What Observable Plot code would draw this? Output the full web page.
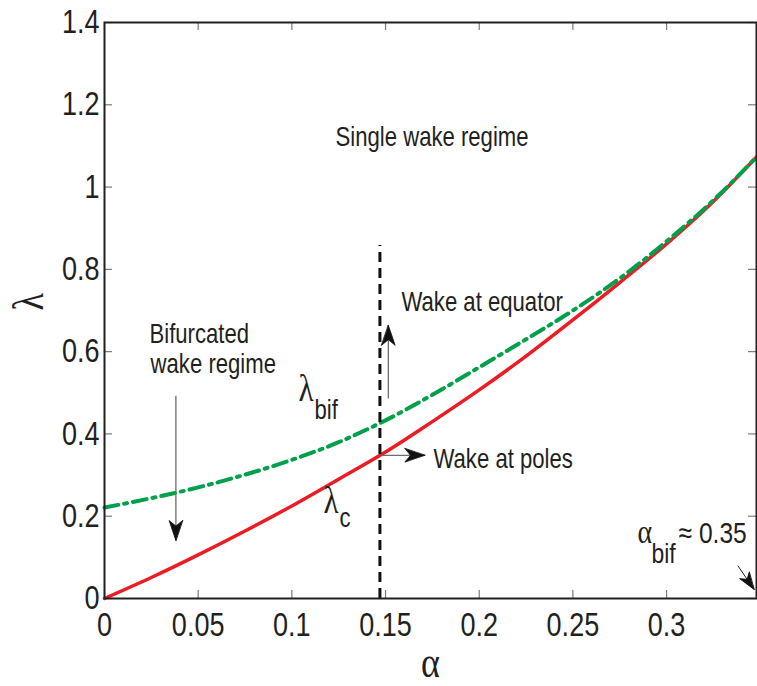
<!DOCTYPE html>
<html>
<head>
<meta charset="utf-8">
<script src="https://cdn.jsdelivr.net/npm/d3@7"></script>
<script src="https://cdn.jsdelivr.net/npm/@observablehq/plot@0.6"></script>
<style>
  html, body { margin: 0; padding: 0; background: #fff; }
  #chart svg { display: block; }
</style>
</head>
<body>
<div id="chart"></div>
<script>
// ---- data ----
const alpha = [0, 0.025, 0.05, 0.075, 0.1, 0.125, 0.15, 0.175, 0.2, 0.225, 0.25, 0.275, 0.3, 0.325, 0.348];
const lambdaC = [0, 0.051, 0.106, 0.164, 0.225, 0.290, 0.356, 0.430, 0.507, 0.589, 0.677, 0.768, 0.862, 0.965, 1.073];
const lambdaBif = [0.221, 0.244, 0.270, 0.301, 0.337, 0.380, 0.433, 0.495, 0.562, 0.630, 0.700, 0.778, 0.868, 0.968, 1.073];

const xTicks = [0, 0.05, 0.1, 0.15, 0.2, 0.25, 0.3];
const yTicks = [0, 0.2, 0.4, 0.6, 0.8, 1, 1.2, 1.4];
const xDomain = [0, 0.348];
const yDomain = [0, 1.4];

const alphaCut = 0.147;      // vertical dashed line
const cutTop = 0.858;

// arrows: start (x1,y1) -> tip (x2,y2)
const arrowX1 = [0.0381, 0.1515, 0.148, 0.338];
const arrowY1 = [0.493, 0.486, 0.348, 0.080];
const arrowX2 = [0.0381, 0.1515, 0.171, 0.3467];
const arrowY2 = [0.141, 0.664, 0.348, 0.022];

// text annotations (left edge, baseline)
const noteText = ["Single wake regime", "Bifurcated", "wake regime", "Wake at equator", "Wake at poles", "bif", "c", "bif", "\u2248 0.35"];
const noteX = [0.1233, 0.024, 0.0246, 0.1585, 0.1756, 0.1121, 0.1254, 0.2919, 0.3064];
const noteY = [1.101, 0.622, 0.547, 0.700, 0.318, 0.4375, 0.1726, 0.0875, 0.1337];
const noteSize = [27, 27, 27, 27, 27, 27, 27, 28, 30];
const greekText = ["\u03bb", "\u03bb", "\u03b1"];
const greekX = [0.1035, 0.1169, 0.2845];
const greekY = [0.481, 0.209, 0.1337];
const greekSize = [38, 38, 34];

// ---- layout ----
const W = 757, H = 686;
const mL = 104, mR = 1, mT = 22, mB = 88;
const plotH = H - mT - mB;
const plotW = W - mL - mR;
const sansFont = "'Liberation Sans', Arial, Helvetica, sans-serif";
const greekFont = "'Liberation Serif', 'DejaVu Serif', serif";
const ink = "#231f20";
const narrow = 0.82;   // reference type is horizontally condensed

const series = alpha.flatMap((a, i) => [
  {alpha: a, lambda: lambdaC[i], s: "c"},
  {alpha: a, lambda: lambdaBif[i], s: "bif"}
]);
const arrows = arrowX1.map((d, i) => ({x1: arrowX1[i], y1: arrowY1[i], x2: arrowX2[i], y2: arrowY2[i], k: i}));
const notes = noteText.map((t, i) => ({t, x: noteX[i], y: noteY[i], size: noteSize[i]}));
const greeks = greekText.map((t, i) => ({t, x: greekX[i], y: greekY[i], size: greekSize[i]}));

// pixel-space direction of arrows (mirrors the plot's scales)
const sx = d3.scaleLinear().domain(xDomain).range([mL, W - mR]);
const sy = d3.scaleLinear().domain(yDomain).range([H - mB, mT]);
const angle = d => Math.atan2(sx(d.x2) - sx(d.x1), -(sy(d.y2) - sy(d.y1))) * 180 / Math.PI;

// stealth arrowhead shape
const stealth = {
  draw(context, l) {
    const w = l * 0.34;
    context.moveTo(0, -l);
    context.lineTo(w, 0);
    context.lineTo(0, -l * 0.28);
    context.lineTo(-w, 0);
    context.closePath();
  }
};
const headStyle = {x: "x2", y: "y2", rotate: angle, anchor: "end", shape: stealth,
  fill: "#111", stroke: "#111", strokeWidth: 0.8, strokeLinejoin: "miter"};

const chart = Plot.plot({
  width: W, height: H,
  marginLeft: mL, marginRight: mR, marginTop: mT, marginBottom: mB,
  style: {fontFamily: sansFont, fontSize: "33px", color: ink, background: "#fff"},
  x: {domain: xDomain, ticks: xTicks, tickSize: 0, tickPadding: 14, tickFormat: d => String(d), label: null},
  y: {domain: yDomain, ticks: yTicks, tickSize: 0, tickPadding: 5, tickFormat: d => String(d), label: null},
  marks: [
    // inward tick marks on all four sides
    Plot.tickX(xTicks, {x: d => d, insetTop: plotH - 8, stroke: "#7a7a7a", strokeWidth: 1.2}),
    Plot.tickX(xTicks, {x: d => d, insetBottom: plotH - 8, stroke: "#7a7a7a", strokeWidth: 1.2}),
    Plot.tickY(yTicks, {y: d => d, insetRight: plotW - 8, stroke: "#7a7a7a", strokeWidth: 1.2}),
    Plot.tickY(yTicks, {y: d => d, insetLeft: plotW - 8, stroke: "#7a7a7a", strokeWidth: 1.2}),
    // curves
    Plot.line(series.filter(d => d.s === "c"), {x: "alpha", y: "lambda", stroke: "#ec1c24", strokeWidth: 3.5, curve: "monotone-x"}),
    Plot.line(series.filter(d => d.s === "bif"), {x: "alpha", y: "lambda", stroke: "#00a04b", strokeWidth: 4, strokeDasharray: "14,6,3,6", curve: "monotone-x"}),
    // vertical dashed line
    Plot.ruleX([alphaCut], {y1: 0, y2: cutTop, stroke: "#111", strokeWidth: 3, strokeDasharray: "10,6"}),
    // arrows
    Plot.link(arrows, {x1: "x1", y1: "y1", x2: "x2", y2: "y2", stroke: d => d.k === 3 ? "#222" : "#6d6d6d", strokeWidth: d => d.k === 3 ? 1 : 1.3}),
    Plot.vector(arrows.filter(d => d.k < 3), {...headStyle, length: 20}),
    Plot.vector(arrows.filter(d => d.k === 3), {...headStyle, length: 17}),
    // annotations
    Plot.text(notes, {x: "x", y: "y", text: "t", textAnchor: "start", lineAnchor: "bottom", fill: ink, fontSize: "size"}),
    Plot.text(greeks, {x: "x", y: "y", text: "t", textAnchor: "start", lineAnchor: "bottom", fill: ink, fontFamily: greekFont, fontSize: "size"}),
    // axis titles
    Plot.text(["\u03b1"], {frameAnchor: "bottom", dy: 78, lineAnchor: "bottom", fontFamily: greekFont, fontSize: 44, fill: ink}),
    Plot.text(["\u03bb"], {frameAnchor: "left", dx: -76, rotate: -90, lineAnchor: "middle", fontFamily: greekFont, fontSize: 44, fill: ink}),
    Plot.frame({stroke: ink, strokeWidth: 2})
  ]
});

// condense every text horizontally about its own anchor point
const plainNum = s => s != null && /^-?\d*\.?\d+$/.test(s.trim());
chart.querySelectorAll("text").forEach(t => {
  const xs = t.getAttribute("x");
  const x = plainNum(xs) ? +xs : 0;
  const tr = t.getAttribute("transform") || "";
  t.setAttribute("transform", `${tr} translate(${x},0) scale(${narrow},1) translate(${-x},0)`.trim());
});
document.getElementById("chart").appendChild(chart);
</script>
</body>
</html>
